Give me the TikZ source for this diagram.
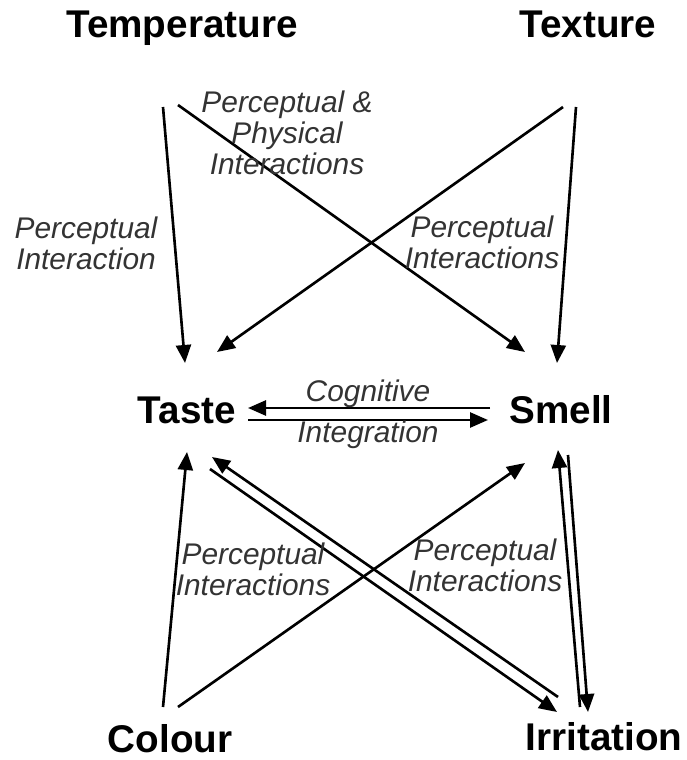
\documentclass[tikz,border=0pt]{standalone}
\usepackage{fontspec}
\setmainfont{Liberation Sans}
\usepackage{tikz}
\usetikzlibrary{arrows.meta}

\begin{document}
\begin{tikzpicture}[x=0.02cm, y=-0.02cm,
	sense/.style={font=\fontsize{22}{26}\selectfont\bfseries, anchor=base, inner sep=0pt},
	link/.style={font=\fontsize{17}{17.5}\selectfont\itshape, text=black!80, align=center, inner sep=0pt},
	arr/.style={-{Triangle[length=3.6mm, width=3mm]}, line width=1.5pt}]

	\useasboundingbox (0, 0) rectangle (686, 760);

	% 六个感觉
	\node[sense] (temp) at (182, 38) {Temperature};
	\node[sense] (texture) at (588, 38) {Texture};
	\node[sense] (taste) at (187, 423) {Taste};
	\node[sense] (smell) at (561, 423) {Smell};
	\node[sense] (colour) at (170, 752) {Colour};
	\node[sense] (irrit) at (604, 750) {Irritation};

	% 箭头的端点
	\coordinate (tempA) at (163, 107);
	\coordinate (tempB) at (178, 105);
	\coordinate (texA) at (563, 107);
	\coordinate (texB) at (576, 107);
	\coordinate (tasteN) at (185, 363);
	\coordinate (tasteNE) at (217, 352);
	\coordinate (smellNW) at (525, 352);
	\coordinate (smellN) at (557, 363);
	\coordinate (tasteE1) at (248, 408);
	\coordinate (tasteE2) at (248, 420);
	\coordinate (smellW1) at (490, 408);
	\coordinate (smellW2) at (488, 420);
	\coordinate (tasteS) at (187, 452);
	\coordinate (tasteSE1) at (212, 457);
	\coordinate (tasteSE2) at (210, 469);
	\coordinate (smellSW) at (525, 463);
	\coordinate (smellS1) at (558, 450);
	\coordinate (smellS2) at (568, 455);
	\coordinate (colA) at (163, 707);
	\coordinate (colB) at (178, 707);
	\coordinate (irrNW1) at (558, 697);
	\coordinate (irrNW2) at (557, 712);
	\coordinate (irrN1) at (580, 707);
	\coordinate (irrN2) at (588, 712);

	% 上半部分的箭头
	\draw[arr] (tempA) -- (tasteN);
	\draw[arr] (tempB) -- (smellNW);
	\draw[arr] (texA) -- (tasteNE);
	\draw[arr] (texB) -- (smellN);

	% 中间的双向箭头
	\draw[arr] (smellW1) -- (tasteE1);
	\draw[arr] (tasteE2) -- (smellW2);

	% 下半部分的箭头
	\draw[arr] (colA) -- (tasteS);
	\draw[arr] (colB) -- (smellSW);
	\draw[arr] (irrNW1) -- (tasteSE1);
	\draw[arr] (tasteSE2) -- (irrNW2);
	\draw[arr] (irrN1) -- (smellS1);
	\draw[arr] (smellS2) -- (irrN2);

	% 箭头上的说明
	\node[link] (pp) at (287, 133) {Perceptual \&\\Physical\\Interactions};
	\node[link] (pl) at (86, 243) {Perceptual\\Interaction};
	\node[link] (pr) at (482, 242) {Perceptual\\Interactions};
	\node[link] (cog) at (368, 394) {Cognitive};
	\node[link] (integ) at (368, 435) {Integration};
	\node[link] (ql) at (253, 569) {Perceptual\\Interactions};
	\node[link] (qr) at (485, 565) {Perceptual\\Interactions};
\end{tikzpicture}
\end{document}
